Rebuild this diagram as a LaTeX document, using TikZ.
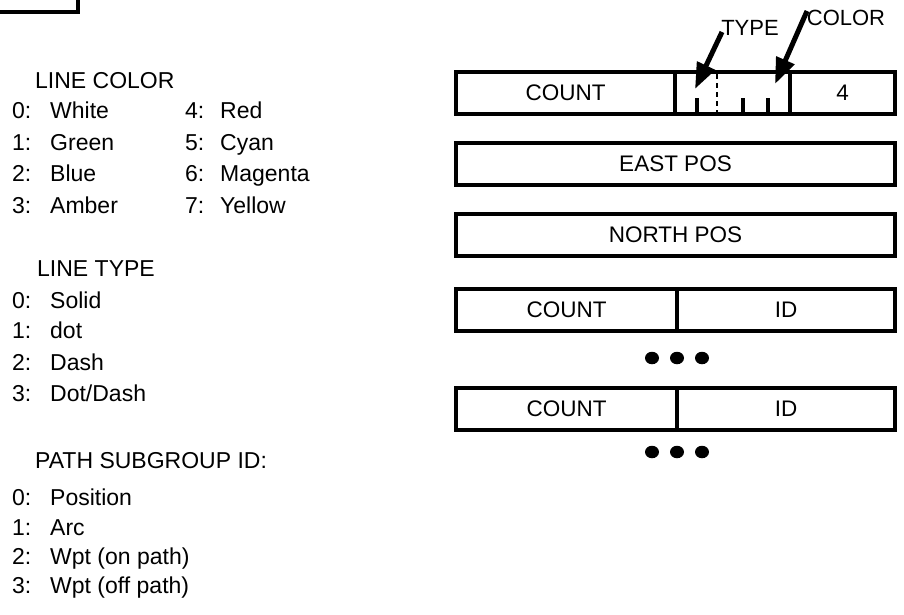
\documentclass[tikz,border=0pt]{standalone}
\usepackage{fontspec}
\setmainfont{Liberation Sans}
\usetikzlibrary{arrows.meta,shapes.geometric}
\begin{document}
\begin{tikzpicture}[x=1pt,y=-1pt,
  lbl/.style={anchor=base west, inner sep=0pt, font=\fontsize{23}{23}\selectfont},
  field/.style={draw, line width=3.4pt, minimum height=42pt, inner sep=0pt, outer sep=0pt, anchor=north west, font=\fontsize{22.5}{22.5}\selectfont},
  dotmark/.style={ellipse, fill, inner sep=0pt, minimum width=14pt, minimum height=12.5pt},
  ptr/.style={line width=5pt, -{Triangle[length=26pt,width=19pt]}},
  bittick/.style={line width=3.4pt},
  tag/.style={anchor=base, inner sep=0pt, font=\fontsize{22}{22}\selectfont}]
\useasboundingbox (0,0) rectangle (904,614);
% corner fragment
\coordinate (fa) at (0,12);
\coordinate (fb) at (78,12);
\coordinate (fc) at (78,0);
\draw[line width=4pt] (fa) -- (fb) -- (fc);

% left legend
\node[lbl] (lc) at (35,88) {LINE COLOR};
\node[lbl] (c0n) at (12,118) {0:};  \node[lbl] (c0) at (50,118) {White};
\node[lbl] (c1n) at (12,150) {1:};  \node[lbl] (c1) at (50,150) {Green};
\node[lbl] (c2n) at (12,181) {2:};  \node[lbl] (c2) at (50,181) {Blue};
\node[lbl] (c3n) at (12,213) {3:};  \node[lbl] (c3) at (50,213) {Amber};
\node[lbl] (c4n) at (185,118) {4:}; \node[lbl] (c4) at (220,118) {Red};
\node[lbl] (c5n) at (185,150) {5:}; \node[lbl] (c5) at (220,150) {Cyan};
\node[lbl] (c6n) at (185,181) {6:}; \node[lbl] (c6) at (220,181) {Magenta};
\node[lbl] (c7n) at (185,213) {7:}; \node[lbl] (c7) at (220,213) {Yellow};

\node[lbl] (lt) at (37,276) {LINE TYPE};
\node[lbl] (t0n) at (12,308) {0:}; \node[lbl] (t0) at (50,308) {Solid};
\node[lbl] (t1n) at (12,338) {1:}; \node[lbl] (t1) at (50,338) {dot};
\node[lbl] (t2n) at (12,370) {2:}; \node[lbl] (t2) at (50,370) {Dash};
\node[lbl] (t3n) at (12,401) {3:}; \node[lbl] (t3) at (50,401) {Dot/Dash};

\node[lbl] (ps) at (35,468) {PATH SUBGROUP ID:};
\node[lbl] (p0n) at (12,505) {0:}; \node[lbl] (p0) at (50,505) {Position};
\node[lbl] (p1n) at (12,535) {1:}; \node[lbl] (p1) at (50,535) {Arc};
\node[lbl] (p2n) at (12,564) {2:}; \node[lbl] (p2) at (50,564) {Wpt (on path)};
\node[lbl] (p3n) at (12,593) {3:}; \node[lbl] (p3) at (50,593) {Wpt (off path)};

% record layout
\node[field, minimum width=219pt] (count1) at (456,72) {COUNT};
\node[field, minimum width=115pt] (bits) at (675,72) {};
\node[field, minimum width=105pt] (four) at (790,72) {4};
\node[field, minimum width=439pt] (east) at (456,143) {EAST POS};
\node[field, minimum width=439pt] (north) at (456,214) {NORTH POS};
\node[field, minimum width=221pt] (count2) at (456,289) {COUNT};
\node[field, minimum width=218pt] (id2) at (677,289) {ID};
\node[dotmark] (d1) at (652,358) {};
\node[dotmark] (d2) at (677,358) {};
\node[dotmark] (d3) at (702,358) {};
\node[field, minimum width=221pt] (count3) at (456,388) {COUNT};
\node[field, minimum width=218pt] (id3) at (677,388) {ID};
\node[dotmark] (d4) at (652,452) {};
\node[dotmark] (d5) at (677,452) {};
\node[dotmark] (d6) at (702,452) {};

% bit field marks
\draw[line width=2.6pt, dash pattern=on 5pt off 4pt] (717,74) -- (717,113);
\draw[bittick] (697,98) -- (697,113);
\draw[bittick] (743,98) -- (743,113);
\draw[bittick] (768,98) -- (768,113);

% labels and pointers
\node[tag] (type) at (750,35) {TYPE};
\node[tag] (color) at (846,25) {COLOR};
\coordinate (typetail) at (722,32);
\coordinate (typetip) at (695,89);
\coordinate (colortail) at (807,11);
\coordinate (colortip) at (775,84);
\draw[ptr] (typetail) -- (typetip);
\draw[ptr] (colortail) -- (colortip);
\end{tikzpicture}
\end{document}
